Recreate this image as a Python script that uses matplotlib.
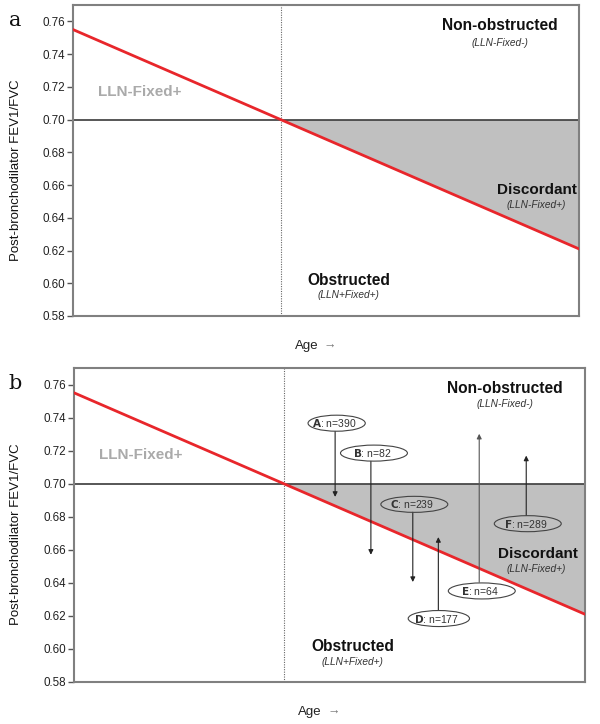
import matplotlib
matplotlib.use("Agg")
import matplotlib.pyplot as plt
from matplotlib.patches import Ellipse
import numpy as np

plt.rcParams['font.family'] = ['Liberation Sans', 'DejaVu Sans']

# ---- data ----
age = [0.0, 1.0]                 # relative age axis (arbitrary units)
lln = [0.755, 0.621]             # LLN of FEV1/FVC at each end of the age range
fixed_ratio = 0.70               # fixed cutoff
age_cross = 0.411                # age where LLN crosses 0.70
y_ticks = [0.58, 0.60, 0.62, 0.64, 0.66, 0.68, 0.70, 0.72, 0.74, 0.76]
y_tick_labels = ["0.58", "0.60", "0.62", "0.64", "0.66", "0.68", "0.70", "0.72", "0.74", "0.76"]

groups = ["A", "B", "C", "D", "E", "F"]
group_n = [390, 82, 239, 177, 64, 289]
group_age = [0.511, 0.581, 0.663, 0.713, 0.793, 0.885]
group_start = [0.7316, 0.7135, 0.6827, 0.6234, 0.6404, 0.6808]
group_end = [0.692, 0.657, 0.6405, 0.6677, 0.7302, 0.717]
label_age = [0.514, 0.587, 0.666, 0.714, 0.798, 0.888]
label_ratio = [0.7366, 0.7185, 0.6875, 0.6184, 0.6351, 0.6758]
label_width = [0.112, 0.131, 0.131, 0.120, 0.131, 0.131]

W, H = 600, 724
fig = plt.figure(figsize=(6.0, 7.24), dpi=100)

def rect(l, r, t, b):
    return [l / W, 1 - b / H, (r - l) / W, (b - t) / H]

ax_a = fig.add_axes(rect(73, 579, 5, 316))
ax_b = fig.add_axes(rect(74, 585, 368, 682))

red = "#e8262b"
grey_fill = "#c0c0c0"

def base(ax, letter, xlabel_y, panel_b=False):
    x = np.array(age)
    y = np.array(lln)
    ax.set_xlim(0, 1)
    ax.set_ylim(0.58, 0.77)
    # grey discordant region
    xs = np.linspace(age_cross, 1, 50)
    ys = np.interp(xs, x, y)
    ax.fill_between(xs, ys, fixed_ratio, color=grey_fill, lw=0, zorder=1)
    ax.axhline(fixed_ratio, color="#3a3a3a", lw=1.2, zorder=2)
    ax.axvline(age_cross, color="#666666", lw=0.8, ls=(0, (1, 1.2)), zorder=2)
    ax.plot(x, y, color=red, lw=2.0, zorder=4)

    ax.set_yticks(y_ticks)
    ax.set_yticklabels(y_tick_labels)
    ax.set_xticks([])
    ax.tick_params(axis="y", length=4, width=1, color="#555555", labelsize=8.4,
                   labelcolor="#222222", pad=1.5)
    for s in ax.spines.values():
        s.set_color("#808080")
        s.set_linewidth(1.5)

    ax.set_ylabel("Post-bronchodilator FEV1/FVC", fontsize=9.5, color="#111111")
    ax.yaxis.set_label_coords(-0.101, 0.47)

    ax.text(-0.115, 0.95, letter, transform=ax.transAxes, fontsize=15,
            family="DejaVu Serif", ha="center", va="center", color="#111111")

    ax.text(0.462, xlabel_y, "Age", transform=ax.transAxes, fontsize=9.5,
            ha="center", va="center", color="#222222")
    ax.text(0.508, xlabel_y, "\u2192", transform=ax.transAxes, fontsize=9,
            ha="center", va="center", color="#777777")

    ax.text(0.844, 0.7573 if not panel_b else 0.7575, "Non-obstructed",
            fontsize=11.2, fontweight="bold", ha="center", va="center", color="#111111")
    ax.text(0.844, 0.7470 if not panel_b else 0.7485, "(LLN-Fixed-)",
            fontsize=7.3, style="italic", ha="center", va="center", color="#333333")
    ax.text(0.049, 0.7171, "LLN-Fixed+", fontsize=11, fontweight="bold",
            ha="left", va="center", color="#aaaaaa")
    ax.text(0.917 if not panel_b else 0.907, 0.6567 if not panel_b else 0.6573, "Discordant",
            fontsize=11, fontweight="bold", ha="center", va="center", color="#111111")
    ax.text(0.915 if not panel_b else 0.905, 0.6476 if not panel_b else 0.6482, "(LLN-Fixed+)",
            fontsize=7.3, style="italic", ha="center", va="center", color="#333333")
    ax.text(0.545, 0.6018 if not panel_b else 0.6013, "Obstructed",
            fontsize=11.2, fontweight="bold", ha="center", va="center", color="#111111")
    ax.text(0.545, 0.593 if not panel_b else 0.5918, "(LLN+Fixed+)",
            fontsize=7.3, style="italic", ha="center", va="center", color="#333333")

base(ax_a, "a", -0.096)
base(ax_b, "b", -0.096, panel_b=True)

# transitions in panel b
for g, n, xa, y0, y1, lx, ly, lw_ in zip(groups, group_n, group_age, group_start,
                                          group_end, label_age, label_ratio, label_width):
    ax_b.annotate("", xy=(xa, y1), xytext=(xa, y0),
                  arrowprops=dict(arrowstyle="-|>", mutation_scale=7, lw=0.8,
                                  color="#222222" if g != "E" else "#555555",
                                  shrinkA=0, shrinkB=0), zorder=5)
    ax_b.add_patch(Ellipse((lx, ly), lw_, 0.0097, facecolor="none",
                           edgecolor="#444444", lw=0.8, zorder=5))
    ax_b.text(lx - 0.004, ly, f"$\\bf{{{g}}}$: n={n}", fontsize=7.5,
              ha="center", va="center", color="#333333", zorder=6)

fig.savefig("out.png", dpi=100)
